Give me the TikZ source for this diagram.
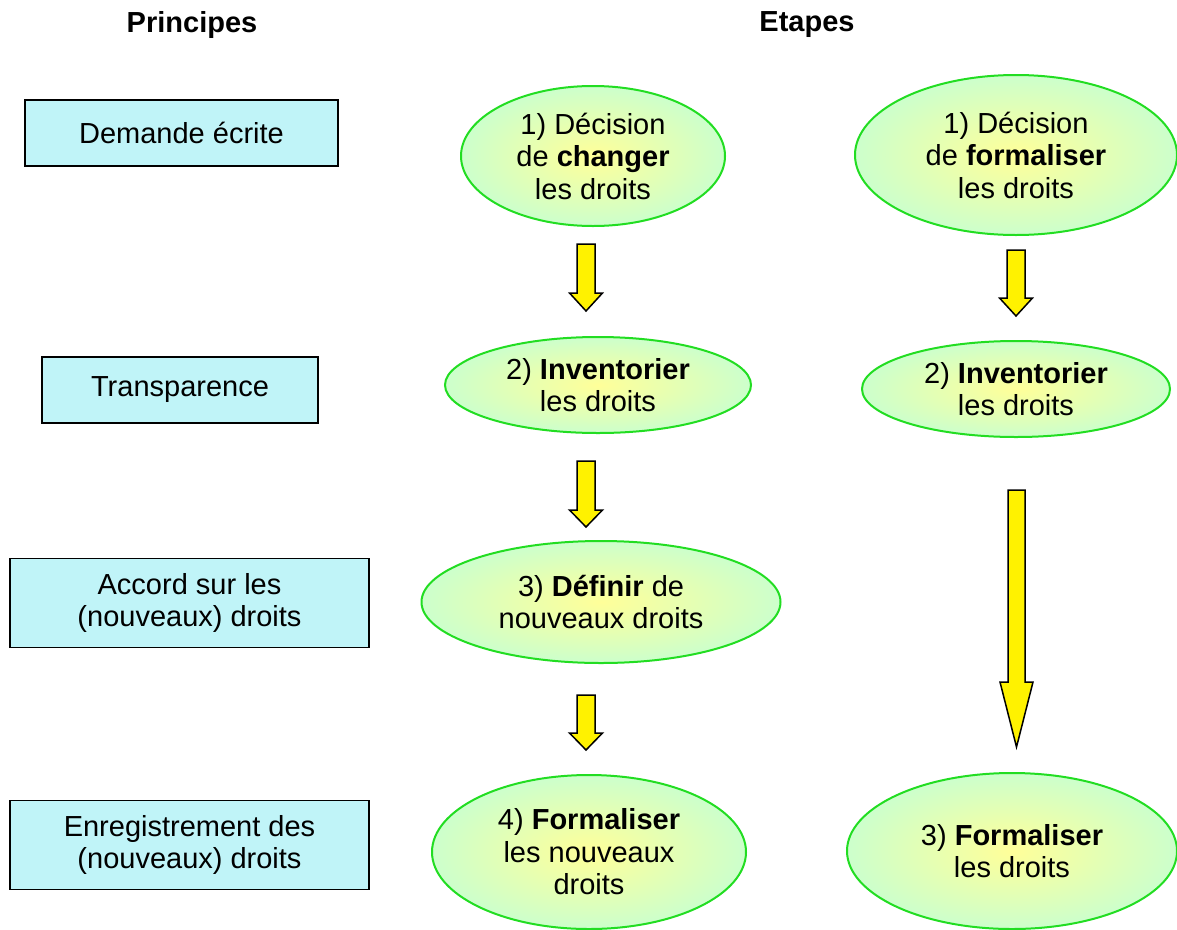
\documentclass[tikz,border=0pt]{standalone}
\usepackage{fontspec}
\setmainfont{Liberation Sans}
\usetikzlibrary{shapes.geometric}
\definecolor{boxcyan}{HTML}{C0F4F8}
\definecolor{ellgreen}{HTML}{22DD22}
\definecolor{ellin}{HTML}{FFFF99}
\definecolor{ellout}{HTML}{CCFFCC}
\tikzset{
  txt/.style={font=\fontsize{29}{32.5}\selectfont, align=center},
  principe/.style={txt, draw=black, line width=1.5pt, fill=boxcyan, inner sep=0pt},
  etape/.style={txt, ellipse, draw=ellgreen, line width=2pt, inner color=ellin, outer color=ellout, inner sep=0pt},
  header/.style={font=\bfseries\fontsize{29}{32}\selectfont},
  yarrow/.style={draw=black, line width=1.5pt, fill=yellow, line join=miter}
}
\newcommand\yarr[5]{% name, cx, top, headstart, tip
  \draw[yarrow] (#2-9,#3) coordinate (#1) -- (#2+9,#3) -- (#2+9,#4) -- (#2+16.5,#4) -- (#2,#5) -- (#2-16.5,#4) -- (#2-9,#4) -- cycle;}
\begin{document}
\begin{tikzpicture}[x=1pt,y=-1pt]
\useasboundingbox (0,0) rectangle (1177,929);
% headers
\node[header] (hp) at (192,25) {Principes};
\node[header] (he) at (807,25) {Etapes};
% principles
\node[principe, minimum width=313, minimum height=66] (p1) at (181.5,133) {Demande écrite};
\node[principe, minimum width=276, minimum height=66] (p2) at (180,390) {Transparence};
\node[principe, minimum width=359, minimum height=89] (p3) at (189.5,603) {Accord sur les\\(nouveaux) droits};
\node[principe, minimum width=359, minimum height=89] (p4) at (189.5,845) {Enregistrement des\\(nouveaux) droits};
% left column of steps
\node[etape, minimum width=264, minimum height=140] (a1) at (593,156) {1) Décision\\de \textbf{changer}\\les droits};
\node[etape, minimum width=306, minimum height=96] (a2) at (598,385) {2) \textbf{Inventorier}\\les droits};
\node[etape, minimum width=359, minimum height=122] (a3) at (601,602) {3) \textbf{Définir} de\\nouveaux droits};
\node[etape, minimum width=314, minimum height=154] (a4) at (589,852) {4) \textbf{Formaliser}\\les nouveaux\\droits};
% right column of steps
\node[etape, minimum width=322, minimum height=160] (b1) at (1016,155) {1) Décision\\de \textbf{formaliser}\\les droits};
\node[etape, minimum width=308, minimum height=96] (b2) at (1016,389) {2) \textbf{Inventorier}\\les droits};
\node[etape, minimum width=330, minimum height=156] (b3) at (1012,851) {3) \textbf{Formaliser}\\les droits};
% block arrows
\yarr{ar1}{586}{244}{293}{311}
\yarr{ar2}{586}{461}{510}{527}
\yarr{ar3}{586}{695}{733}{750}
\yarr{br1}{1016}{250}{298}{316}
\draw[yarrow] (1008,490) coordinate (br2) -- (1025,490) -- (1025,682) -- (1033,682) -- (1016.5,747) -- (1000,682) -- (1008,682) -- cycle;
\end{tikzpicture}
\end{document}
